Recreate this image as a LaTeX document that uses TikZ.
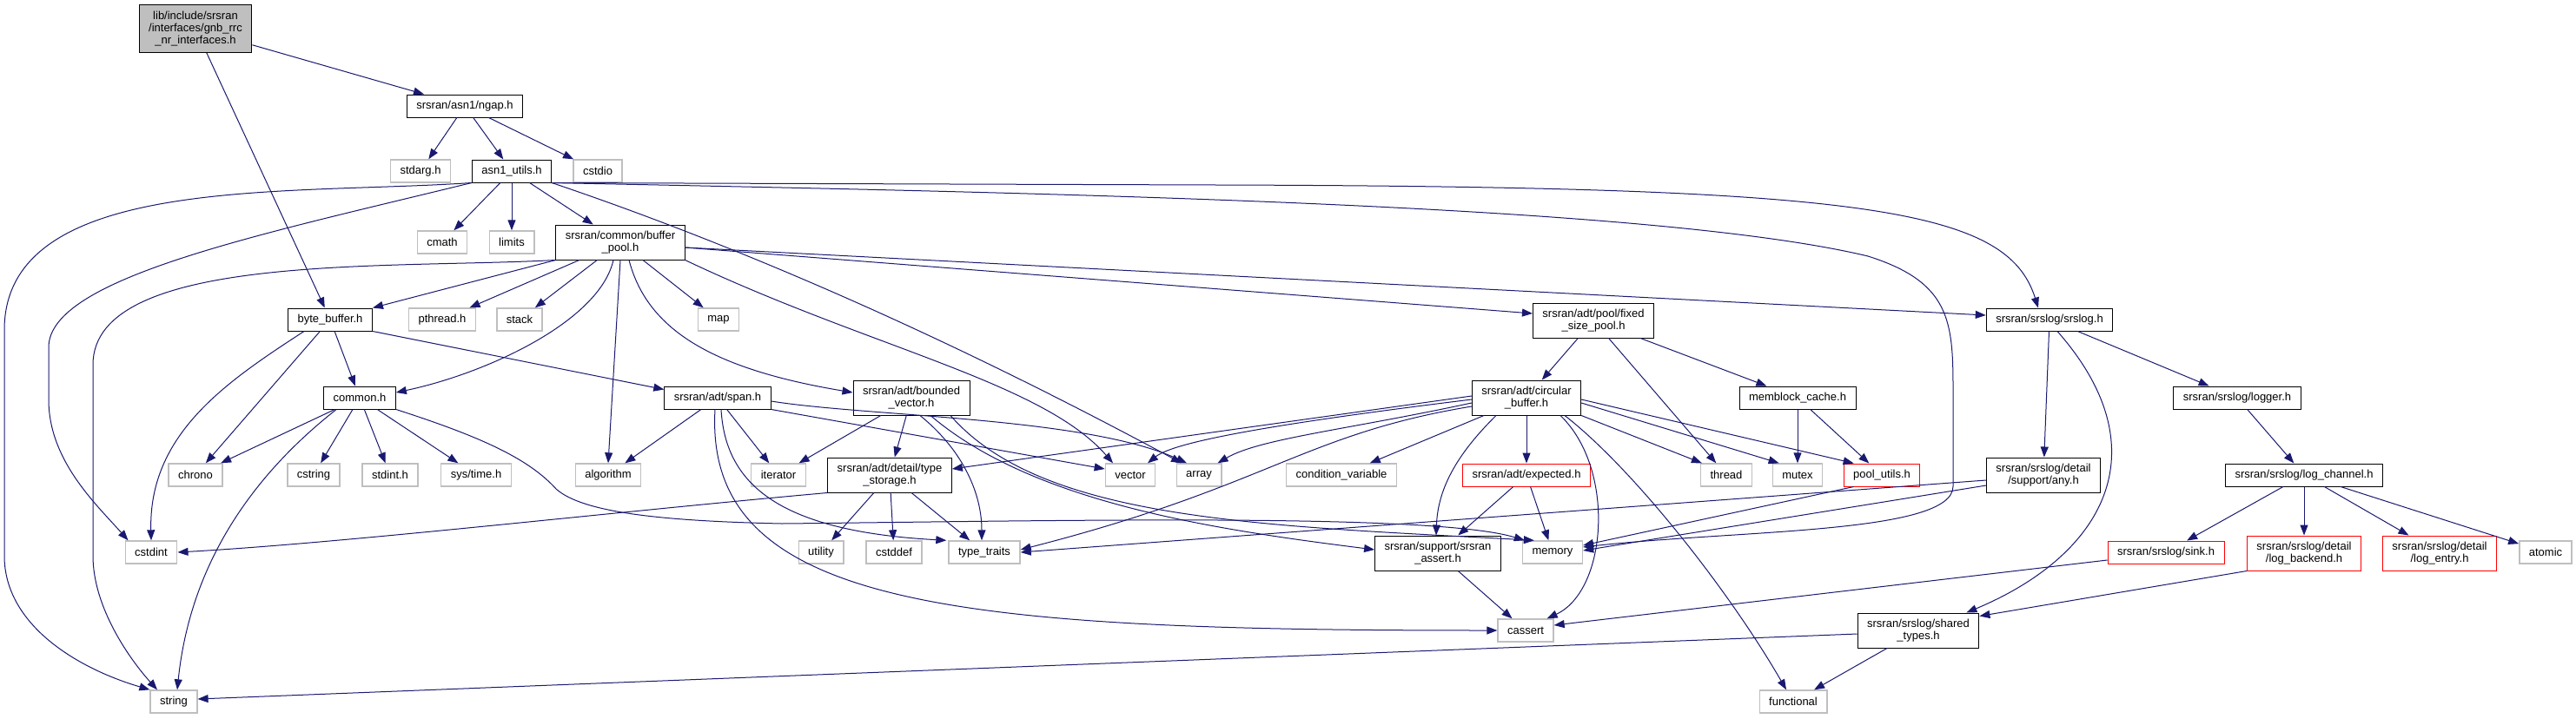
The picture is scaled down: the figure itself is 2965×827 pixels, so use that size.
\documentclass[tikz,border=0pt]{standalone}
\usepackage{fontspec}
\setmainfont{Liberation Sans}
\usetikzlibrary{arrows.meta}
\definecolor{edgeblue}{HTML}{191970}
\definecolor{extgray}{HTML}{BFBFBF}
\definecolor{missred}{HTML}{FF0000}

\begin{document}
\begin{tikzpicture}[x=1pt, y=-1pt,
  every node/.style={font=\fontsize{13}{14}\selectfont, inner xsep=11pt, inner ysep=3pt,
    minimum height=26pt, align=center, line width=1pt},
  file/.style={draw=black},
  sysfile/.style={draw=extgray, line width=1.4pt},
  bad/.style={draw=missred},
  top/.style={draw=black, fill=extgray, minimum height=55pt},
  two/.style={minimum height=40pt},
  dep/.style={draw=edgeblue, line width=1pt, -{Triangle[length=12pt,width=9pt]}},
]
\useasboundingbox (0,0) rectangle (2965,827);

\node[top] (root) at (225,33) {lib/include/srsran\\/interfaces/gnb\_rrc\\\_nr\_interfaces.h};
\node[file] (ngap) at (535,122) {srsran/asn1/ngap.h};
\node[sysfile] (stdarg) at (484,197) {stdarg.h};
\node[file] (asn1) at (589,197) {asn1\_utils.h};
\node[sysfile] (cstdio) at (688,197) {cstdio};
\node[sysfile] (cmath) at (509,279) {cmath};
\node[sysfile] (limits) at (589,279) {limits};
\node[file,two] (bufpool) at (714,279) {srsran/common/buffer\\\_pool.h};
\node[file] (bytebuf) at (380,368) {byte\_buffer.h};
\node[sysfile] (pthread) at (509,368) {pthread.h};
\node[sysfile] (stack) at (598,368) {stack};
\node[sysfile] (map) at (827,368) {map};
\node[file,two] (fixedpool) at (1834,369) {srsran/adt/pool/fixed\\\_size\_pool.h};
\node[file] (srslog) at (2359,368) {srsran/srslog/srslog.h};
\node[file] (common) at (414,458) {common.h};
\node[file] (span) at (826,458) {srsran/adt/span.h};
\node[file,two] (boundedvec) at (1049,458) {srsran/adt/bounded\\\_vector.h};
\node[file,two] (circbuf) at (1757,458) {srsran/adt/circular\\\_buffer.h};
\node[file] (memblock) at (2069,458) {memblock\_cache.h};
\node[file] (logger) at (2575,458) {srsran/srslog/logger.h};
\node[sysfile] (chrono) at (225,547) {chrono};
\node[sysfile] (cstring) at (361,547) {cstring};
\node[sysfile] (stdinth) at (449,547) {stdint.h};
\node[sysfile] (systime) at (548,547) {sys/time.h};
\node[sysfile] (algorithm) at (700,547) {algorithm};
\node[sysfile] (iterator) at (896,547) {iterator};
\node[file,two] (typestorage) at (1024,547) {srsran/adt/detail/type\\\_storage.h};
\node[sysfile] (vector) at (1301,547) {vector};
\node[sysfile] (array) at (1380,547) {array};
\node[sysfile] (condvar) at (1544,547) {condition\_variable};
\node[bad] (expected) at (1757,547) {srsran/adt/expected.h};
\node[sysfile] (thread) at (1987,547) {thread};
\node[sysfile] (mutex) at (2069,547) {mutex};
\node[bad] (poolutils) at (2166,547) {pool\_utils.h};
\node[file,two] (any) at (2352,547) {srsran/srslog/detail\\/support/any.h};
\node[file] (logchannel) at (2652,547) {srsran/srslog/log\_channel.h};
\node[sysfile] (cstdint) at (174,636) {cstdint};
\node[sysfile] (utility) at (945,636) {utility};
\node[sysfile] (cstddef) at (1029,636) {cstddef};
\node[sysfile] (typetraits) at (1133,636) {type\_traits};
\node[file,two] (srsassert) at (1655,637) {srsran/support/srsran\\\_assert.h};
\node[sysfile] (memory) at (1787,636) {memory};
\node[bad] (sink) at (2493,636) {srsran/srslog/sink.h};
\node[bad,two] (logbackend) at (2652,637) {srsran/srslog/detail\\/log\_backend.h};
\node[bad,two] (logentry) at (2808,637) {srsran/srslog/detail\\/log\_entry.h};
\node[sysfile] (atomic) at (2930,636) {atomic};
\node[sysfile] (cassert) at (1756,726) {cassert};
\node[file,two] (sharedtypes) at (2208,726) {srsran/srslog/shared\\\_types.h};
\node[sysfile] (string) at (200,808) {string};
\node[sysfile] (functional) at (2064,808) {functional};

\draw[dep] (root) -- (ngap);
\draw[dep] (root) -- (bytebuf);

\draw[dep] (ngap) -- (stdarg);
\draw[dep] (ngap) -- (asn1);
\draw[dep] (ngap) -- (cstdio);

\draw[dep] (asn1) -- (cmath);
\draw[dep] (asn1) -- (limits);
\draw[dep] (asn1) -- (bufpool);
\draw[dep] (asn1.south west) .. controls (330,225) and (5,200) .. (5,380) -- (5,640) .. controls (5,720) and (90,770) .. (string.north west);
\draw[dep] (asn1.south west) .. controls (300,270) and (56,320) .. (56,400) -- (56,460) .. controls (56,530) and (110,580) .. ([xshift=4pt]cstdint.north west);
\draw[dep] (asn1.south east) .. controls (900,300) and (1150,420) .. ([xshift=-20pt]array.north);
\draw[dep] (asn1.south east) -- (1400,213) .. controls (2150,215) and (2310,240) .. ([xshift=-13pt]srslog.north);
\draw[dep] (asn1.south east) .. controls (1200,222) and (1900,235) .. (2150,295) .. controls (2245,325) and (2248,370) .. (2248,450) -- (2248,560) .. controls (2248,615) and (2000,610) .. ([yshift=6pt]memory.east);

\draw[dep] (bufpool.south west) -- (bytebuf.north east);
\draw[dep] (bufpool) -- (pthread);
\draw[dep] (bufpool) -- (stack);
\draw[dep] (bufpool.south west) .. controls (450,310) and (107,290) .. (107,420) -- (107,640) .. controls (107,700) and (150,760) .. ([xshift=-19pt]string.north);
\draw[dep] ([xshift=-8pt]bufpool.south) .. controls (690,370) and (560,430) .. ([yshift=6pt]common.east);
\draw[dep] (bufpool.south) -- (algorithm.north);
\draw[dep] ([xshift=10pt]bufpool.south) .. controls (745,380) and (820,425) .. ([yshift=6pt]boundedvec.west);
\draw[dep] (bufpool) -- (map);
\draw[dep] (bufpool.south east) .. controls (1000,400) and (1200,440) .. ([xshift=-20pt]vector.north);
\draw[dep] ([yshift=-6pt]bufpool.east) -- ([yshift=8pt]fixedpool.west);
\draw[dep] ([yshift=-6pt]bufpool.east) -- ([yshift=5pt]srslog.west);

\draw[dep] (bytebuf) -- (common);
\draw[dep] (bytebuf) -- (chrono);
\draw[dep] ([xshift=19pt]bytebuf.south west) .. controls (260,440) and (171,500) .. (cstdint.north);
\draw[dep] (bytebuf.south east) -- ([yshift=-4pt]span.north west);

\draw[dep] (common) -- (chrono);
\draw[dep] ([xshift=15pt]common.south west) .. controls (300,540) and (220,640) .. ([xshift=4pt]string.north);
\draw[dep] (common) -- (cstring);
\draw[dep] (common) -- (stdinth);
\draw[dep] (common) -- (systime);
\draw[dep] (common.south east) .. controls (560,505) and (610,530) .. (640,563) .. controls (670,590) and (760,600) .. (900,603) .. controls (1200,600) and (1650,590) .. ([xshift=3pt]memory.north west);

\draw[dep] (span) -- (algorithm);
\draw[dep] (span) -- (iterator);
\draw[dep] ([xshift=4pt]span.south) .. controls (835,560) and (900,612) .. ([xshift=-2pt]typetraits.north west);
\draw[dep] ([xshift=-3pt]span.south) .. controls (810,700) and (1100,726) .. (cassert.west);
\draw[dep] (span.south east) -- ([yshift=7pt]vector.west);
\draw[dep] ([yshift=-4pt]span.east) .. controls (1000,480) and (1250,480) .. ([xshift=-14pt]array.north);

\draw[dep] (boundedvec) -- (iterator);
\draw[dep] (boundedvec) -- (typestorage);
\draw[dep] ([xshift=10pt]boundedvec.south) .. controls (1110,520) and (1130,570) .. ([xshift=-3pt]typetraits.north);
\draw[dep] ([xshift=22pt]boundedvec.south) .. controls (1190,580) and (1400,610) .. ([yshift=4pt]srsassert.west);
\draw[dep] ([xshift=45pt]boundedvec.south) .. controls (1200,600) and (1450,605) .. ([xshift=14pt]memory.north west);

\draw[dep] (typestorage) -- (utility);
\draw[dep] (typestorage) -- (cstddef);
\draw[dep] (typestorage) -- (typetraits);
\draw[dep] (typestorage.south west) .. controls (700,590) and (400,625) .. (cstdint.east);

\draw[dep] (fixedpool) -- (circbuf);
\draw[dep] (fixedpool) -- (thread);
\draw[dep] (fixedpool) -- (memblock);

\draw[dep] (circbuf) -- (condvar);
\draw[dep] (circbuf) -- (expected);
\draw[dep] ([xshift=-35pt]circbuf.south) .. controls (1680,520) and (1655,560) .. ([xshift=-2pt]srsassert.north);
\draw[dep] ([xshift=39pt]circbuf.south) .. controls (1860,540) and (1850,680) .. ([xshift=-8pt]cassert.north east);
\draw[dep] ([xshift=44pt]circbuf.south) .. controls (1880,540) and (1990,680) .. ([xshift=-8pt]functional.north);
\draw[dep] (circbuf.south east) -- ([xshift=2pt]thread.north west);
\draw[dep] ([yshift=-6pt]circbuf.east) -- ([xshift=8pt]mutex.north west);
\draw[dep] ([yshift=-2pt]circbuf.east) -- ([xshift=12pt]poolutils.north west);
\draw[dep] ([yshift=2pt]circbuf.west) -- ([yshift=7pt]typestorage.east);
\draw[dep] ([yshift=-2pt]circbuf.west) .. controls (1450,490) and (1350,510) .. ([xshift=20pt]vector.north);
\draw[dep] ([yshift=-6pt]circbuf.west) .. controls (1550,495) and (1450,505) .. ([xshift=-5pt]array.north east);
\draw[dep] ([yshift=-10pt]circbuf.west) .. controls (1500,500) and (1460,560) .. ([yshift=3pt]typetraits.east);

\draw[dep] (expected) -- (srsassert);
\draw[dep] (expected) -- (memory);

\draw[dep] (memblock) -- (mutex);
\draw[dep] (memblock) -- (poolutils);
\draw[dep] ([xshift=12pt]poolutils.south west) -- ([yshift=8pt]memory.east);

\draw[dep] (srsassert) -- (cassert);

\draw[dep] (srslog) -- (any);
\draw[dep] (srslog) -- (logger);
\draw[dep] ([xshift=9pt]srslog.south) .. controls (2490,520) and (2420,640) .. ([xshift=-15pt]sharedtypes.north east);

\draw[dep] ([yshift=-6pt]any.west) -- (typetraits.east);
\draw[dep] ([yshift=-12pt]any.west) -- ([yshift=2pt]memory.east);

\draw[dep] (logger) -- (logchannel);
\draw[dep] (logchannel) -- (sink);
\draw[dep] (logchannel) -- (logbackend);
\draw[dep] (logchannel) -- (logentry);
\draw[dep] (logchannel) -- (atomic);

\draw[dep] ([yshift=-9pt]sink.west) -- ([yshift=6pt]cassert.east);
\draw[dep] (logbackend.south west) -- ([yshift=-4pt]sharedtypes.north east);

\draw[dep] (sharedtypes) -- (functional);
\draw[dep] ([yshift=-4pt]sharedtypes.west) -- ([yshift=3pt]string.east);
\end{tikzpicture}
\end{document}
